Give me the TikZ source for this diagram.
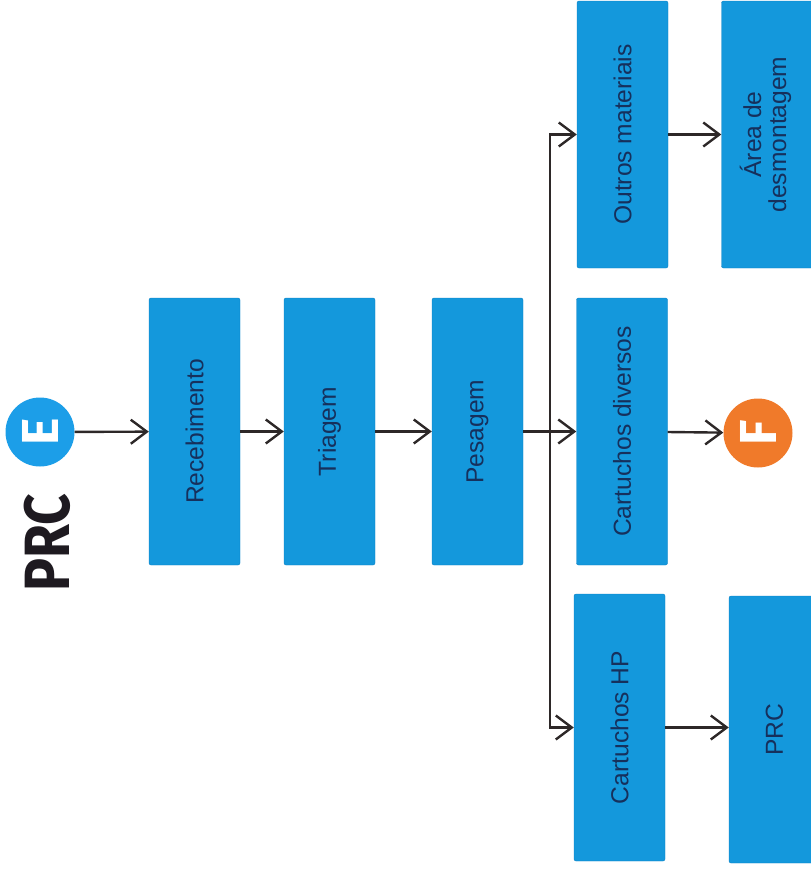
\documentclass[tikz,border=0pt]{standalone}
\usepackage{fontspec}
\setmainfont{Liberation Sans}
\newfontfamily\titlefont{Fira Sans}
\usepackage{graphicx}
\usetikzlibrary{arrows.meta,calc}
\definecolor{boxblue}{RGB}{20,152,220}
\definecolor{boxedge}{RGB}{12,128,196}
\definecolor{textnavy}{RGB}{22,48,92}
\definecolor{circblue}{RGB}{28,158,232}
\definecolor{circorange}{RGB}{240,122,42}
\definecolor{linegray}{RGB}{45,40,40}
\definecolor{titleblack}{RGB}{30,26,32}

\tikzset{
  procbox/.style={draw=boxedge,fill=boxblue,rounded corners=2pt,inner sep=0pt,
    minimum width=91pt,minimum height=267pt,text=textnavy,
    font=\fontsize{24.6}{27}\selectfont},
  endpoint/.style={circle,fill=#1,minimum size=69pt,inner sep=0pt,text=white,
    font=\fontsize{52}{52}\selectfont\titlefont\bfseries},
  conn/.style={draw=linegray,line width=2.4pt,
    -{Straight Barb[length=16pt,width=24pt]}}
}

\begin{document}
\begin{tikzpicture}[x=1pt,y=-1pt]
    \useasboundingbox (0,0) rectangle (811,876);

    \node[rotate=90,text=titleblack,font=\fontsize{64}{64}\selectfont\titlefont\bfseries]
      (title) at (47,543) {\scalebox{0.86}[1]{PRC}};
    \node[endpoint=circblue] (E) at (40,432) {\rotatebox{90}{E}};

    \foreach \name/\x/\txt in {rec/194.5/Recebimento,tri/329.5/Triagem,pes/477.5/Pesagem}{% main chain
      \node[procbox] (\name) at (\x,431.5) {\rotatebox{90}{\txt}};
    }

    % sorted streams
    \node[procbox] (outros) at (622.5,134.5) {\rotatebox{90}{Outros materiais}};
    \node[procbox] (cdiv)   at (622,431.5)   {\rotatebox{90}{Cartuchos diversos}};
    \node[procbox] (chp)    at (619.5,727.5) {\rotatebox{90}{Cartuchos HP}};

    % destinations
    \node[procbox] (area) at (767,134.5)
      {\rotatebox{90}{\begin{tabular}{@{}c@{}}Área de\\[-2pt]desmontagem\end{tabular}}};
    \node[endpoint=circorange] (F) at (758,433) {\rotatebox{90}{F}};
    \node[procbox] (prc) at (774.5,729.5) {\rotatebox{90}{PRC}};

    \draw[conn] (E) -- (rec);
    \draw[conn] (rec) -- (tri);
    \draw[conn] (tri) -- (pes);
    \draw[conn] (pes) -- (cdiv);% straight on through the bus

    \coordinate (bus) at ($(pes.east)!0.5!(cdiv.west)$);
    \draw[conn] (bus) |- (outros.west);
    \draw[conn] (bus) |- (chp.west);

    \draw[conn] (outros) -- (outros -| area.west);
    \draw[conn] (cdiv) -- (F);
    \draw[conn] (chp) -- (chp -| prc.west);

    \end{tikzpicture}
\end{document}
